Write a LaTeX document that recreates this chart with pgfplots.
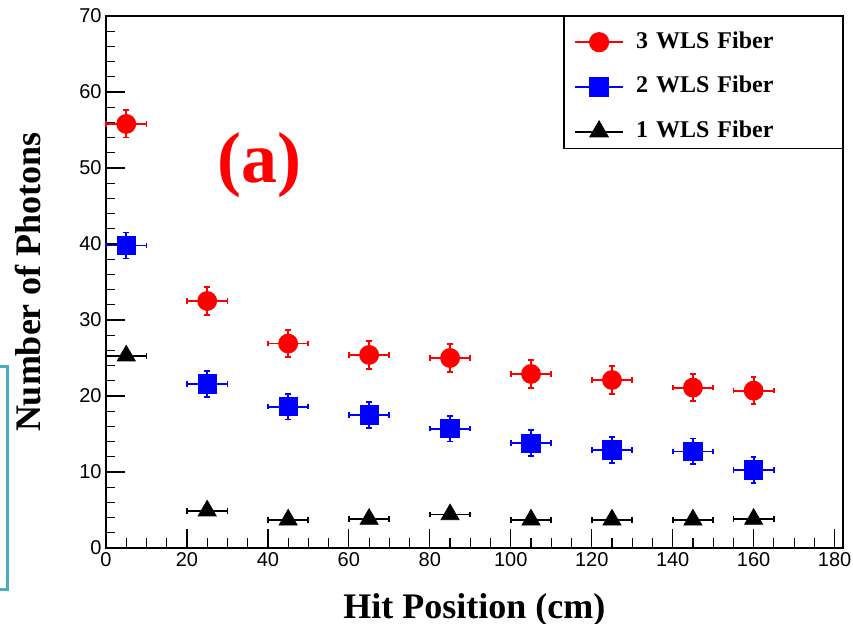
\documentclass[border=0pt]{standalone}
\usepackage{fontspec}
\setmainfont{Liberation Serif}
\setsansfont{Liberation Sans}
\usepackage{pgfplots}
\usepackage{pgfplotstable}
\pgfplotsset{compat=1.18}
\definecolor{bracketblue}{RGB}{75,172,198}

\pgfplotsset{
    rooterr/.style={
        error bars/.cd,
        x dir=both, x explicit, y dir=both, y explicit,
        error bar style={line width=0.9pt},
        error mark options={rotate=90, mark size=1.4pt, line width=0.9pt},
    },
}

% x y ex ey
\pgfplotstableread{
x y ex ey
5 55.8 5 1.8
25 32.5 5 1.8
45 26.9 5 1.8
65 25.4 5 1.8
85 25.0 5 1.8
105 22.9 5 1.8
125 22.1 5 1.8
145 21.1 5 1.8
160 20.7 5 1.8
}\threewls
\pgfplotstableread{
x y ex ey
5 39.8 5 1.7
25 21.6 5 1.7
45 18.6 5 1.7
65 17.5 5 1.7
85 15.7 5 1.7
105 13.8 5 1.7
125 12.9 5 1.7
145 12.7 5 1.7
160 10.3 5 1.7
}\twowls
\pgfplotstableread{
x y ex ey
5 25.3 5 0.3
25 4.9 5 0.3
45 3.7 5 0.3
65 3.8 5 0.3
85 4.4 5 0.3
105 3.7 5 0.3
125 3.7 5 0.3
145 3.7 5 0.3
160 3.8 5 0.3
}\onewls

\begin{document}
\begin{tikzpicture}
\useasboundingbox (0,0) rectangle (426.5pt,312pt);
\begin{axis}[
    at={(53pt,38pt)}, anchor=south west,
    scale only axis, width=368.35pt, height=266pt,
    xmin=0, xmax=182, ymin=0, ymax=70,
    xtick={0,20,...,180}, ytick={0,10,...,70},
    minor x tick num=3, minor y tick num=4,
    tick align=inside, tick pos=left,
    major tick length=9.5pt, minor tick length=4.75pt,
    tick style={black, line width=0.6pt},
    axis line style={line width=0.9pt},
    ticklabel style={font=\sffamily\fontsize{10}{12}\selectfont, inner sep=2pt},
    /pgf/number format/assume math mode=true,
    xlabel={Hit Position (cm)}, ylabel={Number of Photons},
    label style={font=\bfseries\fontsize{18}{20}\selectfont},
    xlabel style={at={(axis description cs:0.5,-0.1165)}, anchor=center},
    ylabel style={at={(axis description cs:-0.1059,0.5)}, anchor=center},
    clip=false,
    legend style={at={(1,1)}, anchor=north east, draw=black, line width=0.6pt,
        fill=white, font=\bfseries\fontsize{12}{14}\selectfont,
        inner xsep=5pt, inner ysep=2.5pt, row sep=6.25pt, column sep=6pt,
        nodes={text width=98pt, text height=8.5pt, text depth=2.5pt, inner sep=0pt}},
    legend cell align=left,
    legend image code/.code={
        \path (0pt,10pt) (0pt,-5.5pt);
        \draw[line width=1pt] (0pt,0pt) -- (24pt,0pt);
        \draw plot coordinates {(12pt,0pt)};
    },
]
\addplot[only marks, red, mark=*, mark size=4.75pt, rooterr]
    table[x=x, y=y, x error=ex, y error=ey] {\threewls};
\addlegendentry{3 WLS Fiber}
\addplot[only marks, blue, mark=square*, mark size=4.6pt, rooterr]
    table[x=x, y=y, x error=ex, y error=ey] {\twowls};
\addlegendentry{2 WLS Fiber}
\addplot[only marks, black, mark=triangle*, mark size=5.2pt, rooterr]
    table[x=x, y=y, x error=ex, y error=ey] {\onewls};
\addlegendentry{1 WLS Fiber}

\node[text=red, font=\bfseries\fontsize{36}{40}\selectfont] at (axis cs:38,50.4) {(a)};
\end{axis}
% bracket fragment at the left edge
\draw[bracketblue, line width=1.5pt] (-5pt,128.5pt) -- (3.5pt,128.5pt) -- (3.5pt,17pt) -- (-5pt,17pt);
\end{tikzpicture}
\end{document}
